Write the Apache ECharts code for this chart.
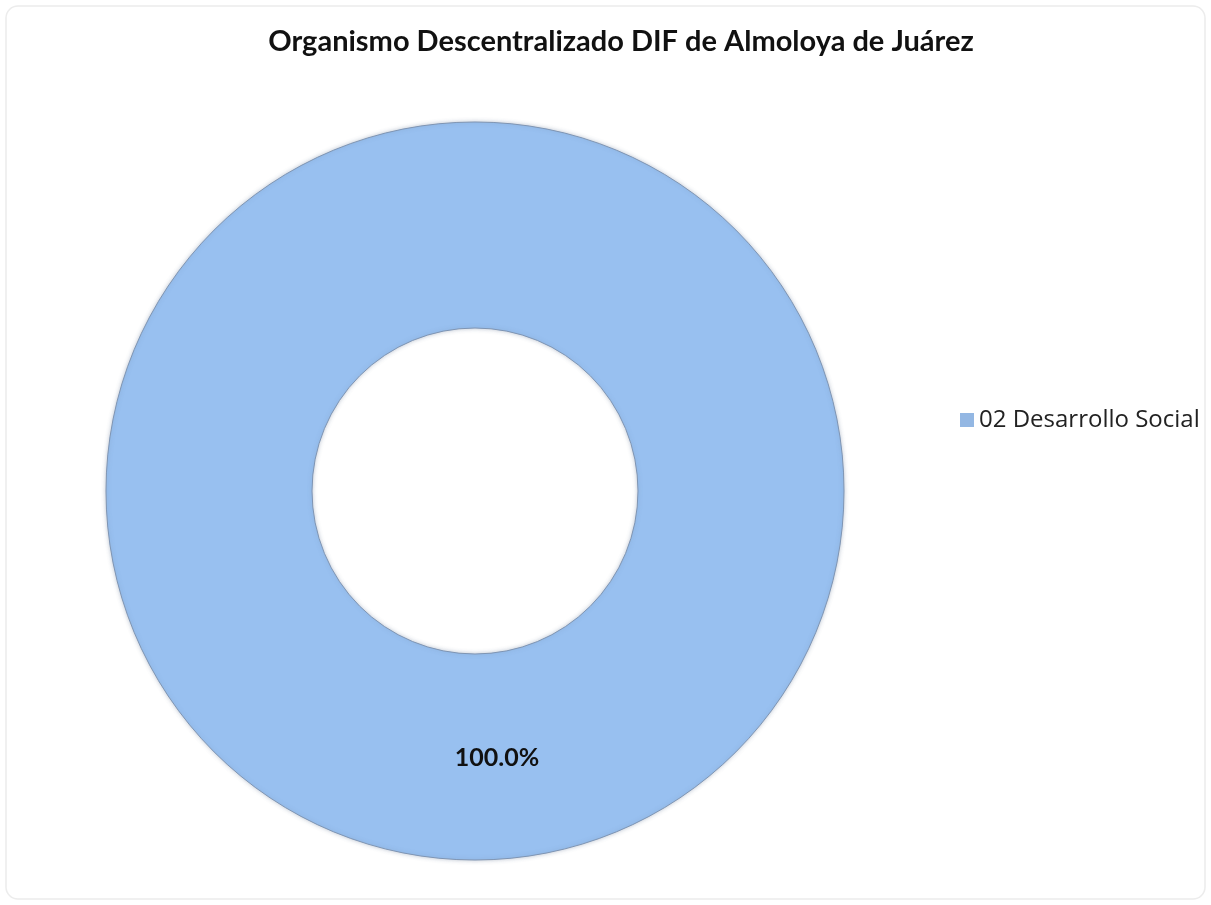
<!DOCTYPE html>
<html>
<head>
<meta charset="utf-8">
<script src="https://cdn.jsdelivr.net/npm/echarts@6/dist/echarts.min.js"></script>
<style>
html,body{margin:0;padding:0;background:#fff;}
#chart{width:1211px;height:905px;}
</style>
</head>
<body>
<div id="chart"></div>
<script>
const titleText = 'Organismo Descentralizado DIF de Almoloya de Juárez';
const categories = ['02 Desarrollo Social'];
const values = [100];
const labels = ['100.0%'];

const chart = echarts.init(document.getElementById('chart'));
chart.setOption({
  animation: false,
  backgroundColor: '#ffffff',
  graphic: [{
    type: 'rect',
    shape: { x: 6, y: 6, width: 1199, height: 893, r: 12 },
    style: { fill: 'none', stroke: '#ececec', lineWidth: 1.5 },
    silent: true
  }],
  title: {
    text: titleText,
    left: 616, top: 22, textAlign: 'center',
    textStyle: { fontFamily: 'Lato', fontWeight: 'bold', fontSize: 29, color: '#111' }
  },
  legend: {
    orient: 'vertical',
    left: 955, top: 403,
    itemWidth: 14, itemHeight: 14,
    itemGap: 8,
    icon: 'rect',
    itemStyle: { borderWidth: 0, color: '#93b7e3' },
    textStyle: { fontFamily: 'Open Sans', fontSize: 24, color: '#222', padding: [0,0,0,0] },
    data: categories
  },
  series: [{
    type: 'pie',
    center: [475, 491],
    radius: [163, 369],
    startAngle: 90,
    clockwise: true,
    data: categories.map((c, i) => ({ name: c, value: values[i], label: { formatter: labels[i] } })),
    itemStyle: {
      color: '#98c0f0',
      borderColor: '#7f95b3',
      borderWidth: 1,
      shadowColor: 'rgba(90,110,140,0.35)',
      shadowBlur: 4
    },
    label: {
      show: true,
      position: 'inside',
      fontFamily: 'Lato',
      fontWeight: 'bold',
      fontSize: 25,
      color: '#111',
      offset: [22, -2]
    },
    labelLine: { show: false },
    emphasis: { disabled: true }
  }]
});
</script>
</body>
</html>
